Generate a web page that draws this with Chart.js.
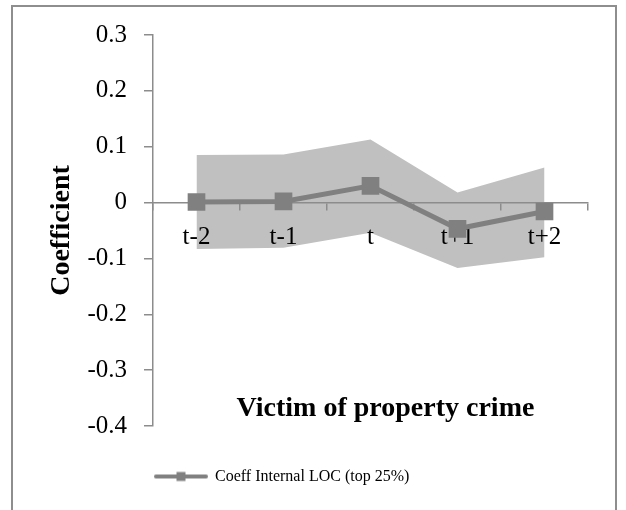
<!DOCTYPE html>
<html>
<head>
<meta charset="utf-8">
<script src="https://cdn.jsdelivr.net/npm/chart.js@4/dist/chart.umd.min.js"></script>
<style>
  html, body { margin: 0; padding: 0; background: #fff; overflow: hidden; }
  #wrap { position: relative; width: 626px; height: 510px; }
  #frame { position: absolute; left: 11px; top: 5px; width: 602px; height: 600px; border: 2px solid #8e8e8e; }
  #chart { position: absolute; left: 0; top: 0; }
</style>
</head>
<body>
<div id="wrap">
  <div id="frame"></div>
  <canvas id="chart" width="626" height="510"></canvas>
</div>
<script>
// Event-study periods around the property-crime victimisation
const periods = ['t-2', 't-1', 't', 't+1', 't+2'];

// Coefficient estimates and the confidence band around them
const coeff = [0.001, 0.002, 0.030, -0.047, -0.016];
const upperBound = [0.085, 0.086, 0.113, 0.018, 0.063];
const lowerBound = [-0.083, -0.081, -0.054, -0.117, -0.098];

// Vertical axis ticks
const yTicks = [0.3, 0.2, 0.1, 0, -0.1, -0.2, -0.3, -0.4];

const seriesName = 'Coeff Internal LOC (top 25%)';
const xTitle = 'Victim of property crime';
const yTitle = 'Coefficient';

const lineGrey = '#808080';
const bandGrey = '#c0c0c0';
const axisGrey = '#8c8c8c';
const serif = '"Liberation Serif", "Times New Roman", serif';

// Legend symbol: a short line with a square marker on it
const legendIcon = document.createElement('canvas');
legendIcon.width = 56;
legendIcon.height = 18;
(function () {
  const g = legendIcon.getContext('2d');
  g.strokeStyle = lineGrey;
  g.lineWidth = 4;
  g.lineCap = 'round';
  g.beginPath();
  g.moveTo(3, 9);
  g.lineTo(53, 9);
  g.stroke();
  g.fillStyle = lineGrey;
  g.fillRect(23.5, 4.5, 9, 9);
})();

// Horizontal axis caption sitting inside the lower part of the plot
const axisCaption = {
  id: 'axisCaption',
  afterDraw(chart) {
    const { ctx, chartArea } = chart;
    ctx.save();
    ctx.font = 'bold 28px ' + serif;
    ctx.fillStyle = '#000';
    ctx.textAlign = 'center';
    ctx.textBaseline = 'alphabetic';
    ctx.fillText(xTitle, (chartArea.left + chartArea.right) / 2 + 15, chartArea.bottom - 10);
    ctx.restore();
  }
};

new Chart(document.getElementById('chart'), {
  type: 'line',
  data: {
    labels: periods,
    datasets: [
      {
        label: seriesName,
        data: coeff,
        borderColor: lineGrey,
        borderWidth: 5,
        pointStyle: 'rect',
        pointRadius: 12.5,
        pointHoverRadius: 12.5,
        pointBackgroundColor: lineGrey,
        pointBorderWidth: 0,
        fill: false,
        tension: 0
      },
      {
        label: 'upper',
        data: upperBound,
        borderWidth: 0,
        pointRadius: 0,
        backgroundColor: bandGrey,
        fill: '+1',
        tension: 0
      },
      {
        label: 'lower',
        data: lowerBound,
        borderWidth: 0,
        pointRadius: 0,
        backgroundColor: bandGrey,
        fill: false,
        tension: 0
      }
    ]
  },
  options: {
    responsive: false,
    animation: false,
    devicePixelRatio: 1,
    layout: { padding: { left: 14, right: 38, top: 35, bottom: 15.5 } },
    scales: {
      // zero line with the category tick marks, beneath the series
      x: {
        type: 'category',
        position: { y: 0 },
        offset: true,
        grid: {
          offset: true,
          drawOnChartArea: false,
          drawTicks: true,
          tickLength: 7,
          color: axisGrey,
          lineWidth: 1.5
        },
        border: { display: true, color: axisGrey, width: 1.5 },
        ticks: { display: false }
      },
      // period labels, painted on top of the series
      xLabels: {
        type: 'category',
        axis: 'x',
        position: { y: 0 },
        offset: true,
        z: 1,
        grid: { display: false },
        border: { display: false },
        ticks: {
          color: '#000',
          font: { family: serif, size: 25 },
          padding: 12,
          maxRotation: 0,
          autoSkip: false
        }
      },
      gap: {
        type: 'category',
        axis: 'x',
        position: 'bottom',
        display: true,
        grid: { display: false },
        border: { display: false },
        ticks: { display: false },
        afterFit(scale) { scale.height = 40.5; }
      },
      y: {
        type: 'linear',
        position: 'left',
        min: -0.4,
        max: 0.3,
        afterBuildTicks(scale) { scale.ticks = yTicks.map(v => ({ value: v })); },
        afterFit(scale) { scale.width = 139; },
        grid: {
          drawOnChartArea: false,
          drawTicks: true,
          tickLength: 9,
          color: axisGrey,
          lineWidth: 1.5
        },
        border: { display: true, color: axisGrey, width: 1.5 },
        ticks: {
          color: '#000',
          font: { family: serif, size: 25 },
          padding: 17,
          callback: v => (v === 0 ? '0' : Number(v).toFixed(1))
        },
        title: {
          display: true,
          text: yTitle,
          color: '#000',
          font: { family: serif, size: 28, weight: 'bold' },
          padding: { top: 31, bottom: 0 }
        }
      }
    },
    plugins: {
      filler: { drawTime: 'beforeDraw' },
      tooltip: { enabled: false },
      legend: {
        display: true,
        position: 'bottom',
        align: 'start',
        fullSize: false,
        labels: {
          usePointStyle: true,
          pointStyle: legendIcon,
          pointStyleWidth: 52,
          padding: 2,
          color: '#000',
          font: { family: serif, size: 16 },
          filter: item => item.datasetIndex === 0
        }
      }
    }
  },
  plugins: [axisCaption]
});
</script>
</body>
</html>
